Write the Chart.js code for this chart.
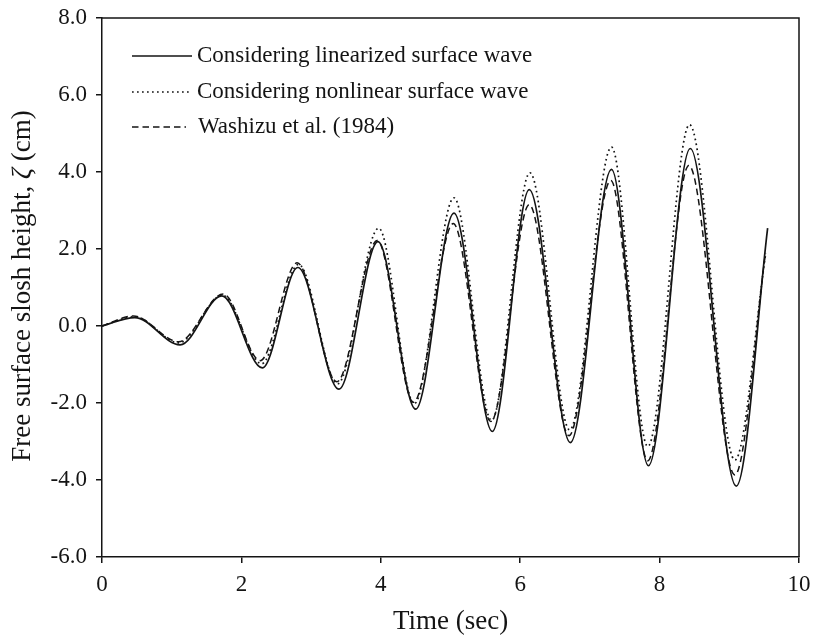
<!DOCTYPE html>
<html>
<head>
<meta charset="utf-8">
<script src="https://cdn.jsdelivr.net/npm/chart.js@4"></script>
<style>
  html, body { margin: 0; padding: 0; background: #fff; }
</style>
</head>
<body>
<canvas id="sloshChart" width="813" height="639"></canvas>
<script>
// Values (extrema of each wave + end points)
const timeLinear = [0, 0.47, 1.12, 1.72, 2.30, 2.81, 3.40, 3.96, 4.50, 5.05, 5.60, 6.13, 6.72, 7.31, 7.84, 8.44, 9.10, 9.55];
const zetaLinear = [0, 0.22, -0.49, 0.78, -1.09, 1.52, -1.64, 2.19, -2.16, 2.93, -2.74, 3.54, -3.03, 4.07, -3.63, 4.61, -4.16, 2.54];

const timeNonlinear = [0, 0.47, 1.10, 1.73, 2.29, 2.82, 3.38, 3.97, 4.48, 5.05, 5.59, 6.14, 6.71, 7.31, 7.83, 8.43, 9.08, 9.52];
const zetaNonlinear = [0, 0.24, -0.44, 0.80, -0.98, 1.60, -1.50, 2.54, -2.02, 3.33, -2.45, 3.98, -2.70, 4.65, -3.13, 5.23, -3.48, 1.85];

const timeWashizu = [0, 0.45, 1.10, 1.74, 2.27, 2.80, 3.37, 3.95, 4.47, 5.04, 5.58, 6.13, 6.70, 7.30, 7.83, 8.42, 9.08, 9.52];
const zetaWashizu = [0, 0.26, -0.41, 0.83, -0.90, 1.64, -1.45, 2.22, -1.98, 2.66, -2.48, 3.15, -2.85, 3.78, -3.50, 4.17, -3.87, 1.90];

const seriesLabels = [
    'Considering linearized surface wave',
    'Considering nonlinear surface wave',
    'Washizu et al. (1984)'
];

const xTicks = [0, 2, 4, 6, 8, 10];
const yTicks = [-6, -4, -2, 0, 2, 4, 6, 8];

const SERIF = '"Liberation Serif", "Times New Roman", serif';
const INK = '#141414';

function toPoints(xs, ys) {
    return xs.map((x, i) => ({ x: x, y: ys[i] }));
}

// frame on top / right side of the plot
const framePlugin = {
    id: 'frame',
    beforeDatasetsDraw(chart) {
        const { ctx, chartArea } = chart;
        ctx.save();
        ctx.strokeStyle = INK;
        ctx.lineWidth = 1.5;
        ctx.beginPath();
        ctx.moveTo(chartArea.left, chartArea.top);
        ctx.lineTo(chartArea.right, chartArea.top);
        ctx.lineTo(chartArea.right, chartArea.bottom);
        ctx.stroke();
        ctx.restore();
    }
};

// legend inside the plot, line sample + label
const insideLegend = {
    id: 'insideLegend',
    afterDatasetsDraw(chart) {
        const { ctx, chartArea } = chart;
        const x0 = chartArea.left + 30;
        const x1 = x0 + 60;
        const rows = [56, 92, 127];
        ctx.save();
        chart.data.datasets.forEach((ds, i) => {
            const y = rows[i];
            ctx.strokeStyle = ds.borderColor;
            ctx.lineWidth = ds.borderWidth;
            ctx.setLineDash(ds.borderDash || []);
            ctx.beginPath();
            ctx.moveTo(x0, y);
            ctx.lineTo(i === 2 ? x1 - 6 : x1, y);
            ctx.stroke();
            ctx.setLineDash([]);
            ctx.fillStyle = INK;
            ctx.font = '23px ' + SERIF;
            ctx.textAlign = 'left';
            ctx.textBaseline = 'middle';
            ctx.fillText(ds.label, i === 2 ? x1 + 6 : x1 + 5, y);
        });
        ctx.restore();
    }
};

// y axis title with an italic zeta
const yTitlePlugin = {
    id: 'yTitle',
    afterDraw(chart) {
        const { ctx } = chart;
        const parts = [
            { t: 'Free surface slosh height, ', f: '27px ' + SERIF },
            { t: 'ζ', f: 'italic 27px ' + SERIF },
            { t: ' (cm)', f: '27px ' + SERIF }
        ];
        let total = 0;
        parts.forEach(p => { ctx.font = p.f; p.w = ctx.measureText(p.t).width; total += p.w; });
        ctx.save();
        ctx.translate(23, 286);
        ctx.rotate(-Math.PI / 2);
        ctx.fillStyle = INK;
        ctx.textBaseline = 'middle';
        ctx.textAlign = 'left';
        let x = -total / 2;
        parts.forEach(p => {
            ctx.font = p.f;
            ctx.fillText(p.t, x, 0);
            x += p.w;
        });
        ctx.restore();
    }
};

const ctx = document.getElementById('sloshChart').getContext('2d');

new Chart(ctx, {
    type: 'line',
    data: {
        datasets: [
            {
                label: seriesLabels[0],
                data: toPoints(timeLinear, zetaLinear),
                borderColor: INK,
                borderWidth: 1.7,
                pointRadius: 0,
                fill: false,
                cubicInterpolationMode: 'monotone'
            },
            {
                label: seriesLabels[1],
                data: toPoints(timeNonlinear, zetaNonlinear),
                borderColor: INK,
                borderWidth: 1.7,
                borderDash: [1.7, 3.3],
                pointRadius: 0,
                fill: false,
                cubicInterpolationMode: 'monotone'
            },
            {
                label: seriesLabels[2],
                data: toPoints(timeWashizu, zetaWashizu),
                borderColor: INK,
                borderWidth: 1.5,
                borderDash: [6.5, 4],
                pointRadius: 0,
                fill: false,
                cubicInterpolationMode: 'monotone'
            }
        ]
    },
    options: {
        responsive: false,
        animation: false,
        layout: {
            padding: { top: 18, right: 14, left: 0, bottom: 0 }
        },
        plugins: {
            legend: { display: false },
            tooltip: { enabled: false }
        },
        scales: {
            x: {
                type: 'linear',
                min: 0,
                max: 10,
                afterBuildTicks: scale => { scale.ticks = xTicks.map(v => ({ value: v })); },
                afterFit: scale => {
                    scale.height = 82;
                    scale.paddingLeft = 0;
                    scale.paddingRight = 0;
                },
                ticks: {
                    font: { family: SERIF, size: 23 },
                    color: INK,
                    padding: 8,
                    maxRotation: 0,
                    callback: v => String(v)
                },
                grid: {
                    drawOnChartArea: false,
                    drawTicks: true,
                    tickLength: 6,
                    color: INK,
                    lineWidth: 1.5
                },
                border: { color: INK, width: 1.5 },
                title: {
                    display: true,
                    text: 'Time (sec)',
                    color: INK,
                    font: { family: SERIF, size: 27 },
                    padding: { top: 0, bottom: 1 }
                }
            },
            y: {
                min: -6,
                max: 8,
                afterBuildTicks: scale => { scale.ticks = yTicks.map(v => ({ value: v })); },
                afterFit: scale => {
                    scale.width = 102;
                    scale.paddingTop = 0;
                    scale.paddingBottom = 0;
                },
                ticks: {
                    font: { family: SERIF, size: 23 },
                    color: INK,
                    padding: 9,
                    callback: v => v.toFixed(1)
                },
                grid: {
                    drawOnChartArea: false,
                    drawTicks: true,
                    tickLength: 6,
                    color: INK,
                    lineWidth: 1.5
                },
                border: { color: INK, width: 1.5 }
            }
        }
    },
    plugins: [framePlugin, insideLegend, yTitlePlugin]
});
</script>
</body>
</html>
